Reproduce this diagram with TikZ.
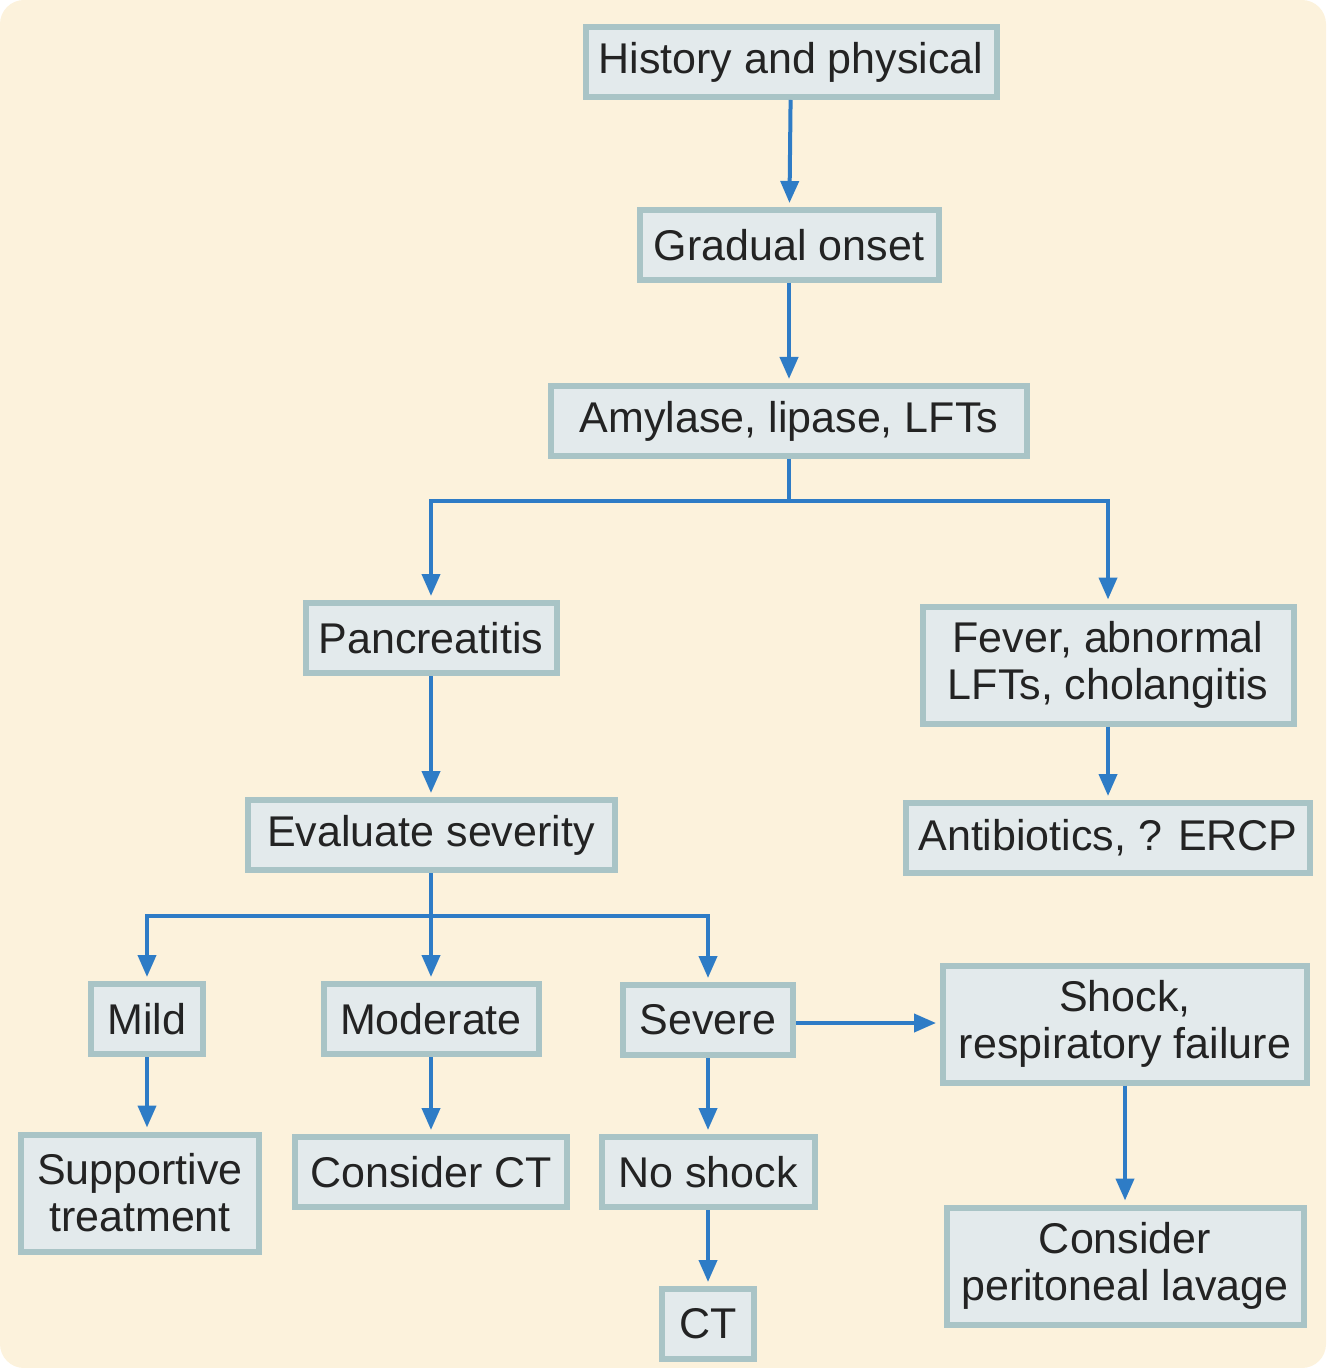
\documentclass[tikz,border=0pt]{standalone}
\usepackage{fontspec}
\setmainfont{Liberation Sans}
\usetikzlibrary{arrows.meta, positioning}

\definecolor{paper}{HTML}{FCF2DC}
\definecolor{boxfill}{HTML}{E3EAEC}
\definecolor{boxedge}{HTML}{A9C4C6}
\definecolor{flowblue}{HTML}{2E7CC6}
\definecolor{ink}{HTML}{232323}

\begin{document}
\begin{tikzpicture}[
    x=0.5pt, y=-0.5pt,
    block/.style={rectangle, draw=boxedge, line width=3pt, fill=boxfill, align=center, text=ink, font=\fontsize{21.5}{23.5}\selectfont, inner sep=0pt, minimum height=35pt},
    tall/.style={minimum height=58.5pt},
    arrow/.style={-{Triangle[length=11pt, width=9pt]}, line width=2pt, draw=flowblue, shorten >=2pt},
]
    % Page
    \useasboundingbox (0,0) rectangle (1326,1368);
    \fill[paper, rounded corners=12pt] (0,0) rectangle (1326,1368);

    % Main trunk
    \node[block, minimum width=205.5pt] (history) at (791,62) {History and physical};
    \node[block, minimum width=149.5pt] (onset) at (789,245) {Gradual onset};
    \node[block, minimum width=238pt] (amylase) at (789,421) {Amylase, lipase, LFTs};

    % Cholangitis branch
    \node[block, tall, minimum width=185.5pt] (fever) at (1108,665) {Fever, abnormal\\LFTs, cholangitis};
    \node[block, minimum width=202pt] (antibiotics) at (1108,838) {Antibiotics, ? ERCP};

    % Pancreatitis branch
    \node[block, minimum width=125.5pt] (pancreatitis) at (431,638) {Pancreatitis};
    \node[block, minimum width=183.5pt] (severity) at (431,835) {Evaluate severity};

    % Severity grades
    \node[block, minimum width=56pt] (mild) at (147,1019) {Mild};
    \node[block, minimum width=107.5pt] (moderate) at (431,1019) {Moderate};
    \node[block, minimum width=85pt] (severe) at (708,1020) {Severe};
    \node[block, tall, minimum width=182pt] (shock) at (1125,1024) {Shock,\\respiratory failure};

    % Management
    \node[block, tall, minimum width=119pt] (supportive) at (140,1193) {Supportive\\treatment};
    \node[block, minimum width=136pt] (considerct) at (431,1172) {Consider CT};
    \node[block, minimum width=106.5pt] (noshock) at (708,1172) {No shock};
    \node[block, minimum width=46pt] (ct) at (708,1324) {CT};
    \node[block, tall, minimum width=178.5pt] (lavage) at (1125,1266) {Consider\\peritoneal lavage};

    % Split points
    \coordinate (split1) at ([yshift=-21pt]amylase.south);
    \coordinate (split2) at ([yshift=-21.5pt]severity.south);

    % Arrows
    \draw[arrow] (history) -- (onset);
    \draw[arrow] (onset) -- (amylase);
    \draw[line width=2pt, flowblue] (amylase.south) -- (split1);
    \draw[arrow] (split1) -| (pancreatitis);
    \draw[arrow] (split1) -| (fever);
    \draw[arrow] (fever) -- (antibiotics);
    \draw[arrow] (pancreatitis) -- (severity);
    \draw[line width=2pt, flowblue] (severity.south) -- (split2);
    \draw[arrow] (split2) -| (mild);
    \draw[arrow] (split2) -- (moderate);
    \draw[arrow] (split2) -| (severe);
    \draw[arrow] ([yshift=-1.5pt]severe.east) -- ([yshift=-1.5pt]severe.east -| shock.west);
    \draw[arrow] (mild) -- (mild |- supportive.north);
    \draw[arrow] (moderate) -- (considerct);
    \draw[arrow] (severe) -- (noshock);
    \draw[arrow] (noshock) -- (ct);
    \draw[arrow] (shock) -- (lavage);
\end{tikzpicture}
\end{document}
